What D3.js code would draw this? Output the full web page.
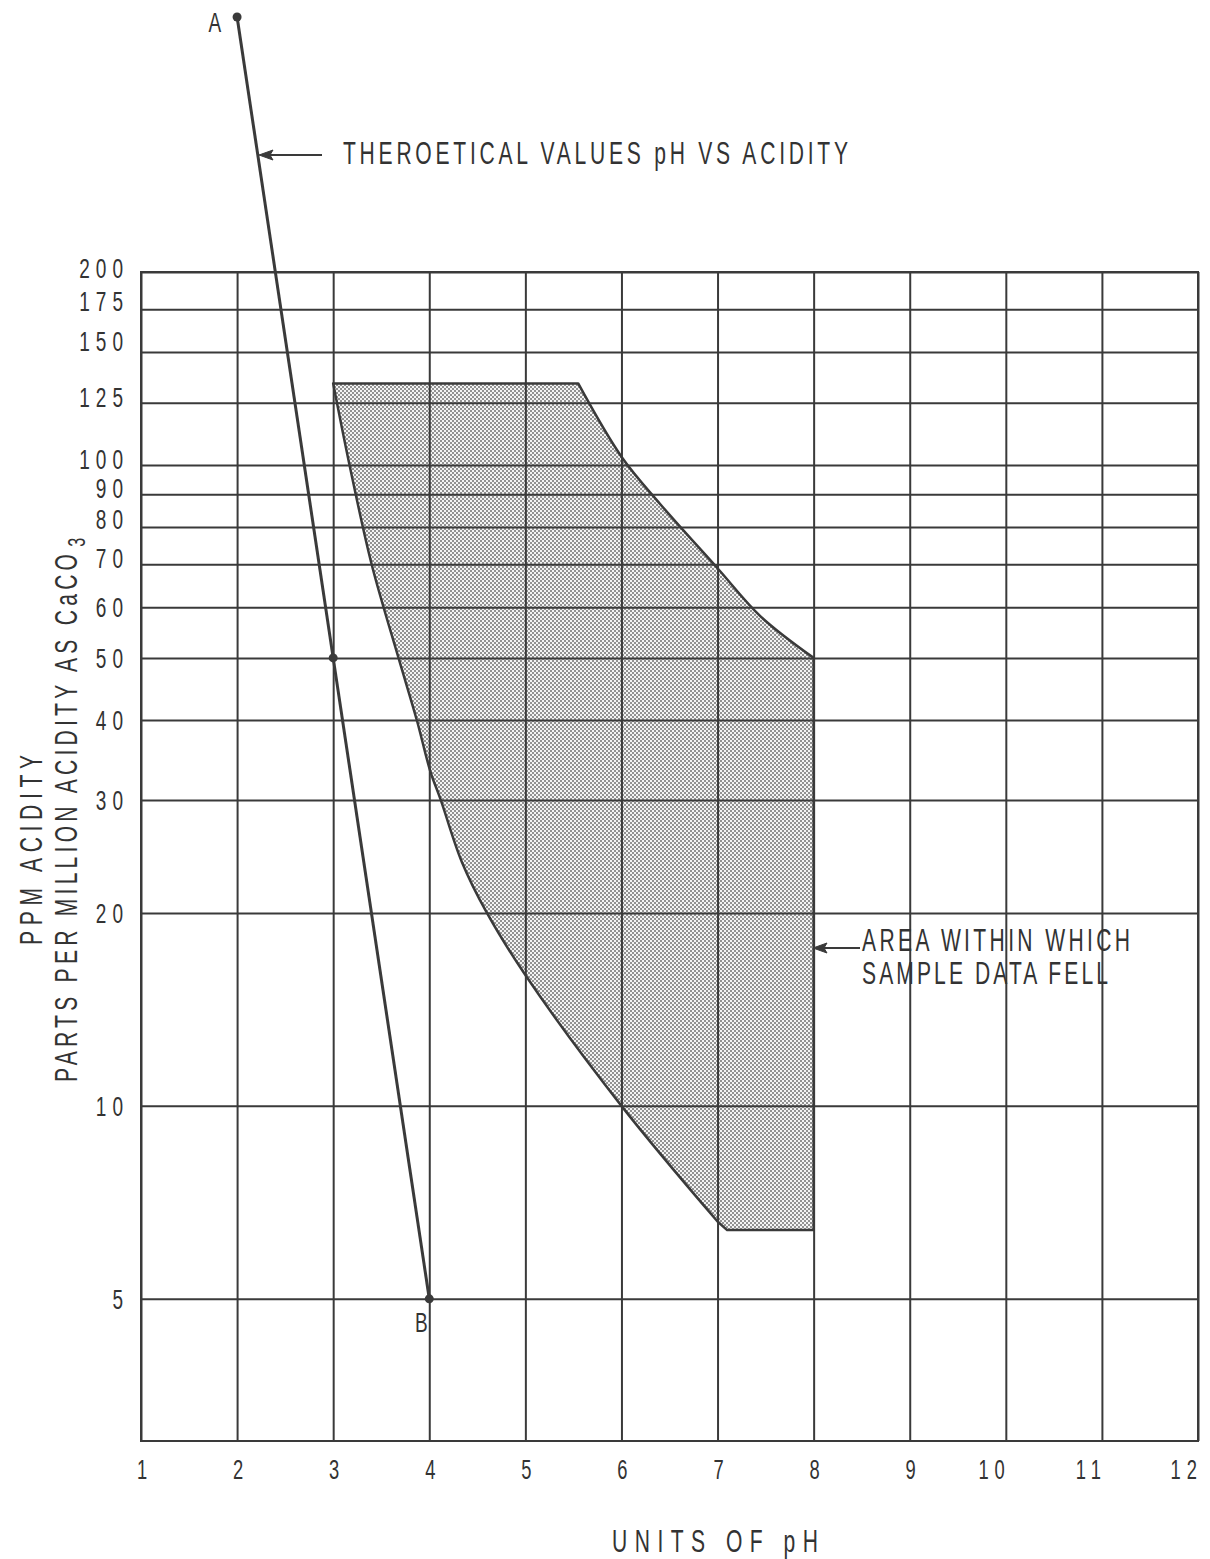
<!DOCTYPE html>
<html>
<head>
<meta charset="utf-8">
<script src="https://cdn.jsdelivr.net/npm/d3@7"></script>
<style>
  body { margin: 0; background: #fff; }
  svg text {
    font-family: "Liberation Sans", Arial, sans-serif;
    fill: #333;
  }
</style>
</head>
<body>
<div id="container"></div>
<script>
/* CONSTANTS AND GLOBALS */
const width = 1210,
  height = 1559,
  margin = { left: 141, top: 272, right: 12, bottom: 118 };

// x ticks (units of pH)
const phTicks = [1, 2, 3, 4, 5, 6, 7, 8, 9, 10, 11, 12];
// y ticks (ppm acidity), log scale
const ppmTicks = [5, 10, 20, 30, 40, 50, 60, 70, 80, 90, 100, 125, 150, 175, 200];

// theoretical line A - B
const theoryPH = [2, 3, 4];
const theoryPPM = [500, 50, 5];

// shaded area: right (upper) boundary, top-right corner down to pH 8
const rightPH = [5.55, 6.0, 6.4, 7.0, 7.45, 8.0];
const rightPPM = [134, 103, 87, 69, 58, 50];
// bottom edge at pH 8 -> 7.1
const bottomPH = [8.0, 7.1];
const bottomPPM = [6.4, 6.4];
// left (lower) boundary, from bottom up to top-left corner
const leftPH = [7.0, 6.0, 5.0, 4.6, 4.34, 4.12, 4.01, 3.87, 3.68, 3.4, 3.17, 3.0];
const leftPPM = [6.6, 10, 16, 20, 24, 30, 33.3, 40, 50, 70, 100, 134];

const ink = "#3a3a3a";
const squeeze = 0.68; // condensed lettering

// SCALES
const xScale = d3.scaleLinear()
  .domain([1, 12])
  .range([margin.left, width - margin.right]);

const yScale = d3.scaleLog()
  .domain([3, 200])
  .range([height - margin.bottom, margin.top]);

// CREATE SVG ELEMENT
const svg = d3.select("#container")
  .append("svg")
  .attr("width", width)
  .attr("height", height);

// condensed text helper
function label(x, y, str, opt = {}) {
  const g = svg.append("g")
    .attr("transform", `translate(${x},${y}) rotate(${opt.rotate || 0})`);
  const t = g.append("text")
    .attr("transform", `scale(${squeeze},1)`)
    .attr("text-anchor", opt.anchor || "start")
    .style("font-size", (opt.size || 30) + "px")
    .style("letter-spacing", ((opt.spacing || 0) / squeeze) + "px");
  if (str !== null) t.text(str);
  if (opt.len) t.attr("textLength", opt.len / squeeze).attr("lengthAdjust", "spacing");
  return t;
}

// halftone dot pattern for the sample area
const defs = svg.append("defs");
const pat = defs.append("pattern")
  .attr("id", "dots")
  .attr("width", 4)
  .attr("height", 4)
  .attr("patternUnits", "userSpaceOnUse");
pat.append("rect").attr("width", 4).attr("height", 4).attr("fill", "#f4f4f4");
pat.append("rect").attr("width", 2).attr("height", 2).attr("fill", "#929292");
pat.append("rect").attr("x", 2).attr("y", 2).attr("width", 2).attr("height", 2).attr("fill", "#929292");

// SHADED AREA (drawn under the grid)
const toPts = (ph, ppm) => ph.map((p, i) => ({ ph: p, ppm: ppm[i] }));
const lineGen = d3.line()
  .x(d => xScale(d.ph))
  .y(d => yScale(d.ppm));
const curveGen = d3.line()
  .x(d => xScale(d.ph))
  .y(d => yScale(d.ppm))
  .curve(d3.curveCatmullRom);

const areaPath = curveGen(toPts(rightPH, rightPPM))
  + lineGen(toPts(bottomPH, bottomPPM)).replace("M", "L")
  + curveGen(toPts(leftPH, leftPPM)).replace("M", "L")
  + "Z";

svg.append("path")
  .attr("d", areaPath)
  .attr("fill", "url(#dots)")
  .attr("stroke", ink)
  .attr("stroke-width", 2.5)
  .attr("stroke-linejoin", "round");

// GRID via axes
const yGrid = d3.axisLeft(yScale)
  .tickValues(ppmTicks)
  .tickSize(-(width - margin.left - margin.right))
  .tickFormat("");

svg.append("g")
  .attr("transform", `translate(${margin.left},0)`)
  .call(yGrid)
  .call(g => g.select(".domain").remove())
  .call(g => g.selectAll("line").attr("stroke", ink).attr("stroke-width", 2));

const xGrid = d3.axisBottom(xScale)
  .tickValues(phTicks)
  .tickSize(-(height - margin.top - margin.bottom))
  .tickFormat("");

svg.append("g")
  .attr("transform", `translate(0,${height - margin.bottom})`)
  .call(xGrid)
  .call(g => g.select(".domain").remove())
  .call(g => g.selectAll("line").attr("stroke", ink).attr("stroke-width", 2));

// frame
svg.append("rect")
  .attr("x", xScale(1))
  .attr("y", yScale(200))
  .attr("width", xScale(12) - xScale(1))
  .attr("height", yScale(3) - yScale(200))
  .attr("fill", "none")
  .attr("stroke", ink)
  .attr("stroke-width", 2);

// TICK LABELS
// crowded labels near the top sit a little above their line
const yNudge = { 200: -4, 175: -8, 150: -11, 125: -6, 100: -6, 90: -6, 80: -8, 70: -6 };
ppmTicks.forEach(d => {
  label(129, yScale(d) + (yNudge[d] || 0) + 10, d, { anchor: "end", size: 28, spacing: 6 });
});

phTicks.forEach(d => {
  if (d >= 10) label(xScale(d) + 5, 1479, d, { anchor: "end", size: 27, spacing: 6 });
  else label(xScale(d) + 1, 1479, d, { anchor: "middle", size: 27 });
});

// THEORETICAL LINE
const theory = toPts(theoryPH, theoryPPM);
svg.append("path")
  .datum(theory)
  .attr("d", lineGen)
  .attr("fill", "none")
  .attr("stroke", ink)
  .attr("stroke-width", 3);

svg.selectAll(".pt")
  .data(theory)
  .join("circle")
  .attr("class", "pt")
  .attr("cx", d => xScale(d.ph))
  .attr("cy", d => yScale(d.ppm))
  .attr("r", 4.5)
  .attr("fill", ink);

label(xScale(2) - 16, yScale(500) + 15, "A", { anchor: "end", size: 28 });
label(xScale(4) - 8, yScale(5) + 33, "B", { anchor: "middle", size: 28 });

// ANNOTATIONS
function arrow(x1, x2, y) {
  svg.append("line")
    .attr("x1", x1).attr("y1", y)
    .attr("x2", x2 + 10).attr("y2", y)
    .attr("stroke", ink)
    .attr("stroke-width", 1.8);
  svg.append("path")
    .attr("d", `M${x2},${y} L${x2 + 14},${y - 5} L${x2 + 11},${y} L${x2 + 14},${y + 5} Z`)
    .attr("fill", ink)
    .attr("stroke", ink)
    .attr("stroke-width", 1);
}

arrow(322, 259, 155);
label(343, 164, "THEROETICAL VALUES pH VS ACIDITY", { len: 505, size: 31 });

arrow(860, 813, 948);
label(862, 951, "AREA WITHIN WHICH", { len: 268, size: 31 });
label(862, 984, "SAMPLE DATA FELL", { len: 246, size: 31 });

// AXIS TITLES
label(612, 1552, "UNITS OF pH", { len: 206, size: 31 });

label(42, 945, "PPM ACIDITY", { rotate: -90, len: 190, size: 31 });

const t2 = label(77, 1082, null, { rotate: -90, size: 31 });
t2.append("tspan")
  .attr("textLength", 528 / squeeze)
  .attr("lengthAdjust", "spacing")
  .text("PARTS PER MILLION ACIDITY AS CaCO");
t2.append("tspan")
  .attr("dx", 3 / squeeze)
  .attr("dy", 8)
  .style("font-size", "24px")
  .text("3");
</script>
</body>
</html>
